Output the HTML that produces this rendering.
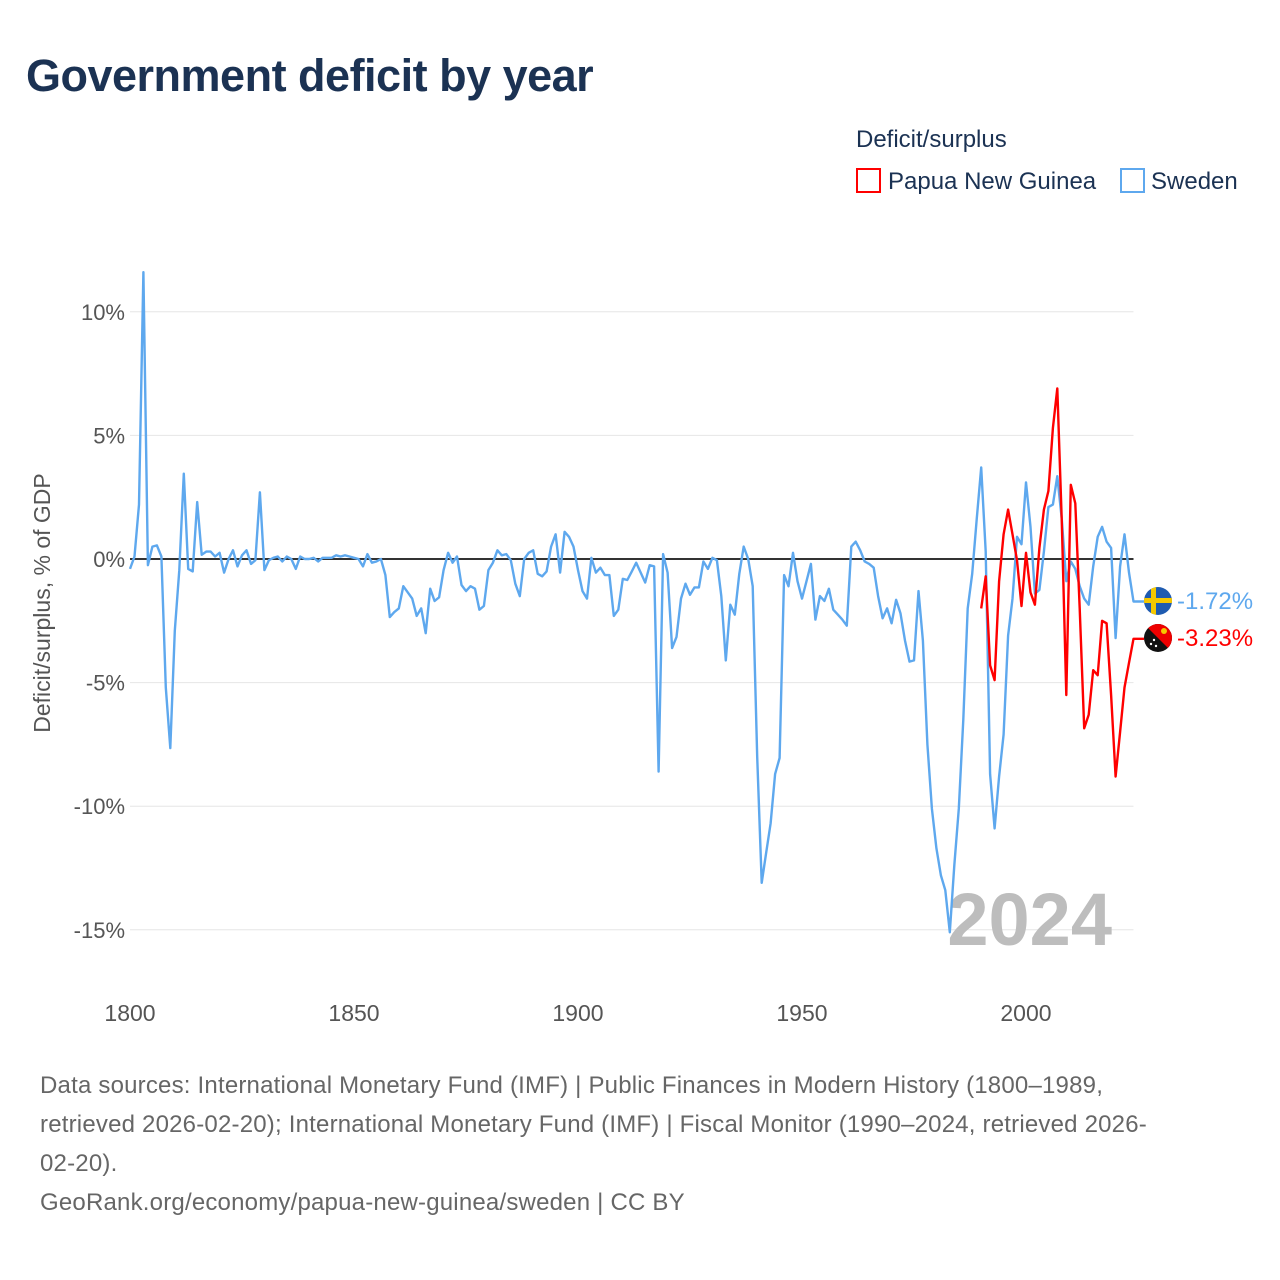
<!DOCTYPE html>
<html><head><meta charset="utf-8">
<style>
html,body{margin:0;padding:0;background:#fff;}
body{width:1280px;height:1280px;position:relative;font-family:"Liberation Sans",sans-serif;overflow:hidden;}
.title{position:absolute;left:26px;top:50px;font-size:45px;font-weight:bold;color:#1b3253;letter-spacing:-0.5px;}
.foot{position:absolute;left:40px;top:1066px;width:1230px;font-size:24px;line-height:39px;color:#666;white-space:nowrap;letter-spacing:0.2px;}
</style></head><body>
<div class="title">Government deficit by year</div>
<svg id="chart" width="1280" height="1060" style="position:absolute;left:0;top:0">
  <g>
    <text x="856" y="147" font-size="24" fill="#1b3253">Deficit/surplus</text>
    <g>
      <rect x="857" y="169" width="23" height="23" fill="none" stroke="#ff0000" stroke-width="2"/>
      <text x="888" y="189" font-size="24" fill="#1b3253">Papua New Guinea</text>
    </g>
    <g>
      <rect x="1121" y="169" width="23" height="23" fill="none" stroke="#5ea8ee" stroke-width="2"/>
      <text x="1151" y="189" font-size="24" fill="#1b3253">Sweden</text>
    </g>
  </g>
  <g id="grid"></g>
  <g id="axes"></g>
  <text x="1112" y="945" font-size="74" font-weight="bold" fill="#bdbdbd" text-anchor="end">2024</text>
  <g id="series"></g>
  <text transform="translate(50,603) rotate(-90)" font-size="23" fill="#555" text-anchor="middle">Deficit/surplus, % of GDP</text>
  <g>
    <clipPath id="c1"><circle cx="1158" cy="601" r="14"/></clipPath>
    <g clip-path="url(#c1)"><rect x="1144" y="587" width="28" height="28" fill="#1f5bb0"/><rect x="1144" y="598" width="28" height="5" fill="#f5c800"/><rect x="1151" y="587" width="5" height="28" fill="#f5c800"/></g>
  </g>
  <g>
    <clipPath id="c2"><circle cx="1158" cy="638" r="14"/></clipPath>
    <g clip-path="url(#c2)"><rect x="1144" y="624" width="28" height="28" fill="#111"/><polygon points="1144,624 1172,624 1172,652" fill="#e00"/><circle cx="1164" cy="631" r="3" fill="#f5c800"/><circle cx="1151" cy="644" r="1.2" fill="#fff"/><circle cx="1154" cy="640" r="1.2" fill="#fff"/><circle cx="1156" cy="646" r="1.2" fill="#fff"/></g>
  </g>
  <text x="1177" y="609" font-size="24" fill="#5ea8ee">-1.72%</text>
  <text x="1177" y="646" font-size="24" fill="#ff0000">-3.23%</text>
</svg>
<div class="foot">Data sources: International Monetary Fund (IMF) | Public Finances in Modern History (1800–1989,<br>retrieved 2026-02-20); International Monetary Fund (IMF) | Fiscal Monitor (1990–2024, retrieved 2026-<br>02-20).<br><span>GeoRank.org/economy/papua-new-guinea/sweden | CC BY</span></div>
<script>
const yTicks=[10,5,0,-5,-10,-15];
const xTicks=[1800,1850,1900,1950,2000];
const swedenStart=1800;
const swedenValues=[
-0.4,0.1,2.2,11.6,-0.25,0.5,0.55,0.1,-5.2,-7.65,
-2.9,-0.45,3.45,-0.4,-0.5,2.3,0.17,0.3,0.3,0.1,
0.25,-0.55,0,0.35,-0.3,0.15,0.35,-0.2,-0.05,2.7,
-0.45,-0.05,0.05,0.1,-0.1,0.1,0,-0.4,0.1,0,
0,0.05,-0.1,0.05,0.05,0.05,0.15,0.1,0.15,0.1,
0.05,0,-0.3,0.2,-0.15,-0.1,0,-0.65,-2.35,-2.15,
-2.0,-1.1,-1.35,-1.6,-2.3,-2.0,-3.0,-1.2,-1.7,-1.55,
-0.45,0.25,-0.15,0.1,-1.05,-1.3,-1.1,-1.2,-2.05,-1.9,
-0.45,-0.15,0.35,0.15,0.2,-0.05,-1.0,-1.5,0,0.25,
0.35,-0.6,-0.7,-0.5,0.5,1.0,-0.55,1.1,0.9,0.5,
-0.45,-1.3,-1.6,0.05,-0.55,-0.35,-0.65,-0.65,-2.3,-2.05,
-0.8,-0.85,-0.5,-0.15,-0.55,-0.95,-0.25,-0.3,-8.6,0.2,
-0.55,-3.6,-3.15,-1.6,-1.0,-1.45,-1.15,-1.15,-0.1,-0.4,
0.05,-0.05,-1.5,-4.1,-1.85,-2.25,-0.6,0.5,0,-1.1,
-8,-13.1,-11.9,-10.7,-8.7,-8.05,-0.65,-1.1,0.25,-0.9,
-1.6,-0.9,-0.2,-2.45,-1.5,-1.7,-1.2,-2.05,-2.25,-2.45,
-2.7,0.5,0.7,0.35,-0.1,-0.2,-0.35,-1.5,-2.4,-2.0,
-2.6,-1.65,-2.2,-3.3,-4.15,-4.1,-1.3,-3.3,-7.5,-10.1,
-11.7,-12.8,-13.4,-15.1,-12.4,-10.1,-6.5,-2.0,-0.6,1.6,
3.7,0.3,-8.7,-10.9,-8.8,-7.1,-3.1,-1.6,0.9,0.6,
3.1,1.3,-1.4,-1.25,0.3,2.1,2.2,3.35,1.6,-0.9,
-0.1,-0.4,-1.1,-1.6,-1.85,-0.3,0.9,1.3,0.7,0.45,
-3.2,-0.3,1.0,-0.55,-1.72];
const pngStart=1990;
const pngValues=[
-2.0,-0.7,-4.3,-4.9,-0.9,1.0,2.0,1.0,-0.05,-1.9,
0.25,-1.35,-1.85,0.45,2.0,2.75,5.3,6.9,1.5,-5.5,
3.0,2.25,-2.0,-6.85,-6.3,-4.5,-4.7,-2.5,-2.6,-5.5,
-8.8,-7.0,-5.2,-4.2,-3.23];

const NS="http://www.w3.org/2000/svg";
const X0=130,X1=1133.5,Y0=559,PPU=24.72;
function xs(yr){return X0+(yr-1800)*(X1-X0)/224;}
function ys(v){return Y0-v*PPU;}
function mk(tag,attrs,parent){const e=document.createElementNS(NS,tag);for(const k in attrs)e.setAttribute(k,attrs[k]);parent.appendChild(e);return e;}
const grid=document.getElementById('grid'),axes=document.getElementById('axes'),series=document.getElementById('series');
yTicks.forEach(t=>{
  if(t!==0){const l=mk('line',{x1:X0,x2:X1,y1:ys(t),y2:ys(t),stroke:'#e6e6e6','stroke-width':1},grid);
  
  }
  const tx=mk('text',{x:125,y:ys(t)+8,'font-size':22,fill:'#555','text-anchor':'end'},axes);
  tx.textContent=t+'%';
  
  
});
xTicks.forEach(t=>{
  const tx=mk('text',{x:xs(t),y:1021,'font-size':23,fill:'#555','text-anchor':'middle'},axes);
  tx.textContent=t;
  
  
});
const zl=mk('line',{x1:X0,x2:X1,y1:Y0,y2:Y0,stroke:'#333','stroke-width':2},axes);


function line(vals,start,color,name){
  let d=vals.map((v,i)=>(i?'L':'M')+xs(start+i).toFixed(1)+','+ys(v).toFixed(1)).join(' ');
  d+=' L1144,'+ys(vals[vals.length-1]).toFixed(1);
  const p=mk('path',{d:d,fill:'none',stroke:color,'stroke-width':2.4,'stroke-linejoin':'round'},series);
  
  
}
line(swedenValues,swedenStart,'#5ea8ee','sweden-line');
line(pngValues,pngStart,'#ff0000','png-line');
</script>
</body></html>
